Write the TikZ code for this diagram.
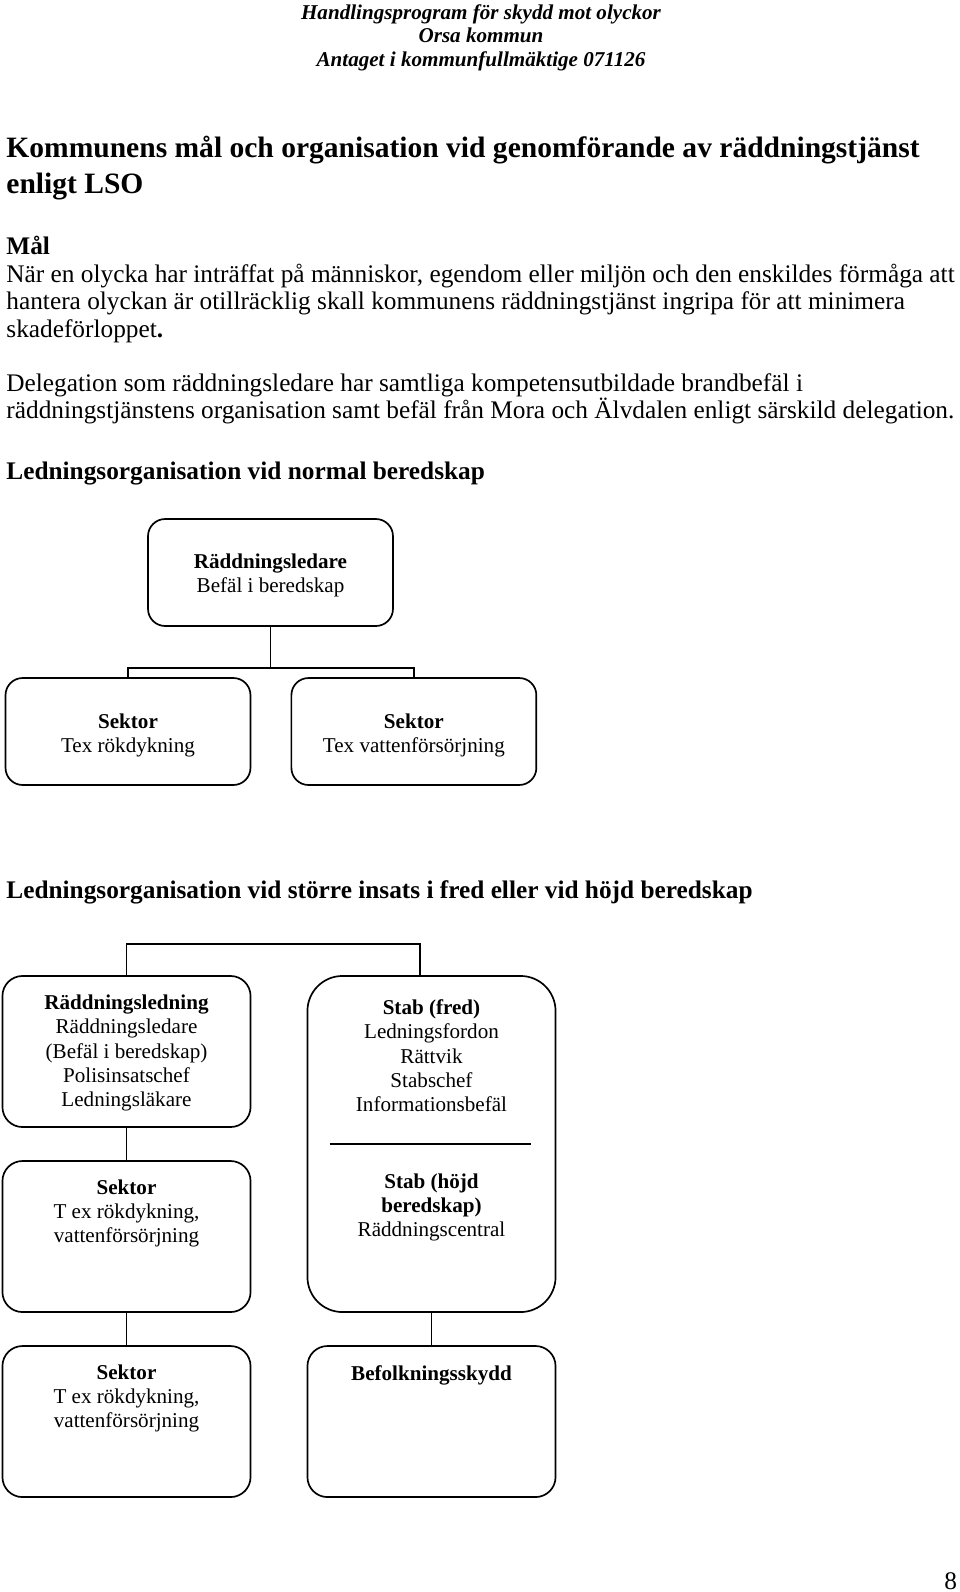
\documentclass[tikz,border=0pt]{standalone}
\usepackage{fontspec}
\setmainfont{Liberation Serif}
\usepackage{tikz}
\usetikzlibrary{positioning,calc}

\begin{document}
\begin{tikzpicture}[
        x=0.474pt, y=-0.474pt,
        % Styles
        orgbox/.style={
            rectangle,
            draw=black,
            line width=0.8pt,
            rounded corners=8.1pt,
            minimum width=116.1pt,
            minimum height=50.7pt
        },
        storbox/.style={
            orgbox,
            rounded corners=9.5pt,
            minimum width=117.6pt,
            minimum height=71.6pt
        },
        boxtext/.style={
            anchor=base,
            align=center,
            inner sep=0pt,
            font=\fontsize{10}{11.4}\selectfont
        },
        rubrik/.style={
            anchor=base west,
            align=left,
            inner sep=0pt,
            font=\bfseries\fontsize{12}{13}\selectfont
        },
        brodtext/.style={
            anchor=base west,
            align=left,
            inner sep=0pt,
            font=\fontsize{12}{13}\selectfont
        },
        conn/.style={
            line width=0.8pt
        }
    ]

    \useasboundingbox (0,0) rectangle (960,1592);

    % Page header (base = last line)
    \node[anchor=base, align=center, inner sep=0pt,
          font=\bfseries\itshape\fontsize{10}{11.1}\selectfont] (kopf) at (481,66) {
        Handlingsprogram för skydd mot olyckor\\
        Orsa kommun\\
        Antaget i kommunfullmäktige 071126
    };

    % Title and text
    \node[rubrik, font=\bfseries\fontsize{14}{16.6}\selectfont] (titel) at (6,193) {
        Kommunens mål och organisation vid genomförande av räddningstjänst\\
        enligt LSO
    };
    \node[rubrik] (mal) at (6,254) {Mål};
    \node[brodtext] (maltext) at (6,337) {
        När en olycka har inträffat på människor, egendom eller miljön och den enskildes förmåga att\\
        hantera olyckan är otillräcklig skall kommunens räddningstjänst ingripa för att minimera\\
        skadeförloppet\textbf{.}
    };
    \node[brodtext] (delegation) at (6,418.5) {
        Delegation som räddningsledare har samtliga kompetensutbildade brandbefäl i\\
        räddningstjänstens organisation samt befäl från Mora och Älvdalen enligt särskild delegation.
    };

    % Normal beredskap
    \node[rubrik] (rubrik_normal) at (6,479) {Ledningsorganisation vid normal beredskap};

    \node[orgbox] (rl) at (270.5,572.5) {};
    \node[orgbox] (sek1) at (128,731.5) {};
    \node[orgbox, right=18.6pt of sek1] (sek2) {};

    \node[boxtext] (rl_txt) at ($(rl.north)+(0,74)$) {\textbf{Räddningsledare}\\Befäl i beredskap};
    \node[boxtext] (sek1_txt) at ($(sek1.north)+(0,75)$) {\textbf{Sektor}\\Tex rökdykning};
    \node[boxtext] (sek2_txt) at ($(sek2.north)+(0,75)$) {\textbf{Sektor}\\Tex vattenförsörjning};

    \coordinate (split1) at ($(rl.south)+(0,41)$);
    \draw[conn] (rl.south) -- (split1);
    \draw[conn] (sek1.north) |- (split1) -| (sek2.north);

    % Större insats / höjd beredskap
    \node[rubrik] (rubrik_hojd) at (6,898) {Ledningsorganisation vid större insats i fred eller vid höjd beredskap};

    \node[storbox] (rled) at (126.5,1051.5) {};
    \node[storbox, below=15.3pt of rled] (sek3) {};
    \node[storbox, below=15.3pt of sek3] (sek4) {};
    \node[storbox, minimum height=159.3pt, rounded corners=16.6pt] (stab) at (431.5,1144) {};
    \node[storbox, below=15.3pt of stab] (befolk) {};

    \node[boxtext] (rled_txt) at ($(rled.north)+(0,131)$) {
        \textbf{Räddningsledning}\\Räddningsledare\\(Befäl i beredskap)\\Polisinsatschef\\Ledningsläkare
    };
    \node[boxtext] (sek3_txt) at ($(sek3.north)+(0,82)$) {\textbf{Sektor}\\T ex rökdykning,\\vattenförsörjning};
    \node[boxtext] (sek4_txt) at ($(sek4.north)+(0,82)$) {\textbf{Sektor}\\T ex rökdykning,\\vattenförsörjning};
    \node[boxtext] (stab_txt) at ($(stab.north)+(0,136)$) {
        \textbf{Stab (fred)}\\Ledningsfordon\\Rättvik\\Stabschef\\Informationsbefäl
    };
    \node[boxtext] (stab_hojd_txt) at ($(stab.north)+(0,261)$) {
        \textbf{Stab (höjd}\\\textbf{beredskap)}\\Räddningscentral
    };
    \node[boxtext] (befolk_txt) at ($(befolk.north)+(0,35)$) {\textbf{Befolkningsskydd}};

    \draw[conn] ($(stab.west)+(23,0)$) -- ($(stab.east)+(-25,0)$);

    \coordinate (stabtopp) at (420,944);
    \draw[conn] (rled.north) |- (stabtopp) -- (stabtopp |- stab.north);
    \draw[conn] (rled.south) -- (sek3.north);
    \draw[conn] (sek3.south) -- (sek4.north);
    \draw[conn] (stab.south) -- (befolk.north);

    % Page number
    \node[brodtext] (sidnr) at (944,1589) {8};

\end{tikzpicture}
\end{document}
